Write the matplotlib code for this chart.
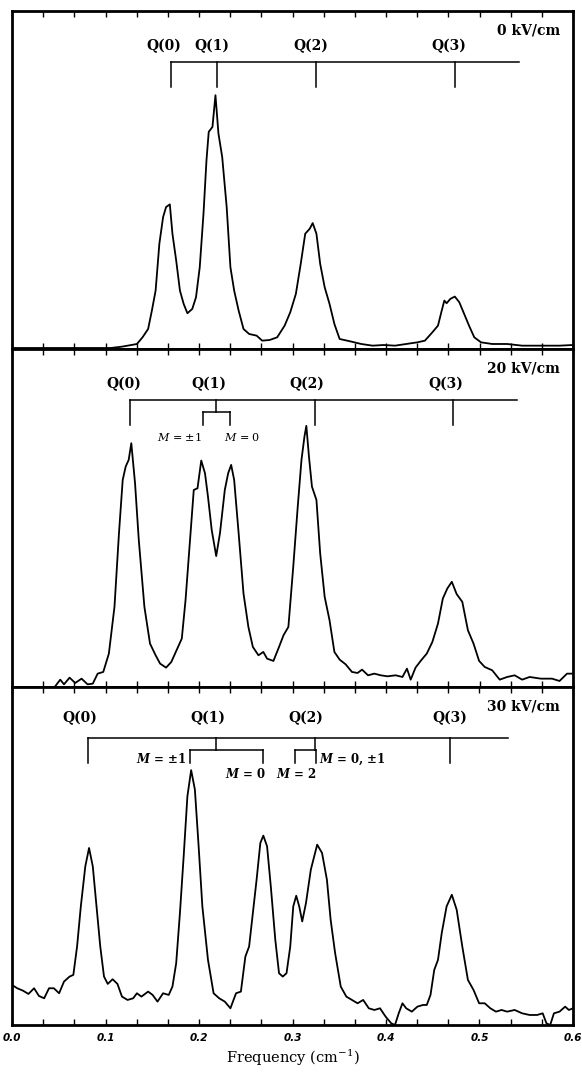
import numpy as np
import matplotlib
matplotlib.use("Agg")
import matplotlib.pyplot as plt
from matplotlib.ticker import MultipleLocator

plt.rcParams['mathtext.fontset'] = 'dejavuserif'
plt.rcParams['font.family'] = ['DejaVu Serif']

# spectra (frequency in cm^-1, intensity in arb. units)
freq_0kv = [0.0, 0.1056, 0.1176, 0.1336, 0.1396, 0.1456, 0.1496, 0.1536, 0.1576, 0.1616,
            0.1648, 0.1688, 0.1716, 0.1756, 0.1796, 0.1836, 0.1876, 0.1928, 0.1968, 0.2008,
            0.2048, 0.208, 0.2104, 0.2144, 0.2176, 0.2208, 0.2248, 0.2296, 0.2336, 0.2376,
            0.2424, 0.2476, 0.2536, 0.2616, 0.2676, 0.2756, 0.2836, 0.2916, 0.2976, 0.3036,
            0.3088, 0.3136, 0.3184, 0.3216, 0.3256, 0.3296, 0.3344, 0.3396, 0.3448, 0.3504,
            0.3616, 0.3736, 0.3856, 0.3976, 0.4096, 0.4216, 0.4336, 0.4416, 0.4496, 0.4556,
            0.4596, 0.4624, 0.4648, 0.4688, 0.4736, 0.4784, 0.4836, 0.4888, 0.4944, 0.5016,
            0.5136, 0.5296, 0.5456, 0.5656, 0.5856, 0.6]
int_0kv = [3, 3, 7, 15, 35, 60, 115, 175, 315, 395,
           425, 433, 345, 265, 175, 135, 107, 120, 155, 245,
           405, 565, 650, 665, 760, 645, 575, 425, 245, 175,
           115, 60, 45, 40, 25, 27, 35, 70, 110, 165,
           255, 345, 360, 377, 345, 255, 185, 135, 75, 30,
           23, 15, 10, 12, 10, 15, 20, 25, 50, 70,
           115, 145, 137, 150, 157, 140, 105, 70, 35, 20,
           15, 15, 10, 10, 10, 12]

freq_20kv = [0.0, 0.0456, 0.0516, 0.0556, 0.0616, 0.0676, 0.0744, 0.0808, 0.0864, 0.0916,
             0.0976, 0.1036, 0.1096, 0.1144, 0.1184, 0.1216, 0.1248, 0.1276, 0.1316, 0.1356,
             0.1416, 0.1476, 0.1536, 0.1584, 0.1648, 0.1704, 0.1768, 0.1816, 0.1856, 0.1904,
             0.1944, 0.1984, 0.2024, 0.2064, 0.2096, 0.2136, 0.2184, 0.2224, 0.2276, 0.2312,
             0.2344, 0.2376, 0.2424, 0.2476, 0.2528, 0.2576, 0.2636, 0.2688, 0.2728, 0.2796,
             0.2856, 0.2904, 0.2956, 0.3008, 0.3056, 0.3096, 0.3128, 0.3148, 0.3176, 0.3208,
             0.3256, 0.3296, 0.3344, 0.3396, 0.3448, 0.3504, 0.3568, 0.3636, 0.3696, 0.3744,
             0.3808, 0.3876, 0.3944, 0.4016, 0.4104, 0.4176, 0.4224, 0.4264, 0.4316, 0.4376,
             0.4436, 0.4496, 0.4556, 0.4608, 0.4656, 0.4704, 0.4756, 0.4816, 0.4876, 0.4936,
             0.4996, 0.5056, 0.5136, 0.5216, 0.5296, 0.5376, 0.5456, 0.5536, 0.5656, 0.5776,
             0.5856, 0.5936, 0.6]
int_20kv = [0, 0, 22, 8, 28, 12, 25, 8, 10, 40,
            45, 100, 240, 460, 620, 660, 680, 730, 610, 440,
            240, 130, 95, 70, 58, 75, 115, 145, 260, 440,
            590, 595, 678, 640, 570, 470, 392, 460, 590, 640,
            665, 620, 460, 280, 180, 120, 95, 105, 85, 78,
            120, 155, 180, 360, 540, 680, 750, 782, 690, 600,
            560, 400, 270, 200, 105, 82, 68, 45, 42, 52,
            35, 40, 35, 32, 35, 30, 55, 22, 58, 80,
            100, 135, 190, 265, 295, 315, 278, 255, 170, 130,
            78, 60, 50, 22, 30, 35, 22, 30, 25, 25,
            18, 40, 40]

freq_30kv = [0.0, 0.0056, 0.0116, 0.0176, 0.0236, 0.0288, 0.0344, 0.0396, 0.0448, 0.0504,
             0.0556, 0.0616, 0.0656, 0.0696, 0.0736, 0.0784, 0.0824, 0.0864, 0.0904, 0.0944,
             0.0984, 0.1024, 0.1076, 0.1128, 0.1176, 0.1236, 0.1296, 0.1336, 0.1384, 0.1456,
             0.1504, 0.1556, 0.1616, 0.1676, 0.1716, 0.1756, 0.1796, 0.1836, 0.1876, 0.1916,
             0.1956, 0.1996, 0.2036, 0.2096, 0.2156, 0.2216, 0.2276, 0.2336, 0.2396, 0.2448,
             0.2496, 0.2536, 0.2576, 0.2616, 0.2656, 0.2688, 0.2728, 0.2768, 0.2816, 0.2856,
             0.2896, 0.2936, 0.2976, 0.3008, 0.304, 0.3072, 0.3104, 0.3144, 0.3196, 0.3264,
             0.3316, 0.3368, 0.3408, 0.3456, 0.3516, 0.3576, 0.3636, 0.3696, 0.3756, 0.3816,
             0.3876, 0.3936, 0.3996, 0.4056, 0.4096, 0.4136, 0.4176, 0.4216, 0.4276, 0.4336,
             0.4396, 0.4436, 0.4476, 0.4516, 0.4556, 0.4596, 0.4648, 0.4704, 0.4756, 0.4816,
             0.4876, 0.4936, 0.4996, 0.5056, 0.5116, 0.5176, 0.5236, 0.5296, 0.5376, 0.5456,
             0.5536, 0.5616, 0.5676, 0.5716, 0.5756, 0.5796, 0.5856, 0.5916, 0.5956, 0.6]
int_30kv = [120, 110, 103, 93, 110, 87, 80, 110, 110, 95,
            130, 145, 150, 235, 355, 475, 530, 475, 355, 235,
            145, 123, 137, 123, 85, 75, 80, 95, 85, 100,
            90, 70, 95, 90, 115, 185, 335, 505, 685, 763,
            705, 535, 355, 195, 95, 80, 70, 50, 95, 100,
            205, 235, 335, 435, 545, 567, 535, 415, 255, 155,
            145, 155, 235, 355, 387, 355, 310, 365, 465, 540,
            515, 435, 315, 215, 115, 85, 75, 65, 75, 50,
            45, 50, 25, 5, 0, 35, 65, 50, 40, 55,
            60, 60, 90, 165, 195, 275, 355, 390, 345, 235,
            135, 105, 65, 65, 50, 40, 45, 40, 45, 35,
            30, 30, 35, 5, 0, 35, 40, 55, 45, 50]

# line positions of the Q branch members
q_names = ['Q(0)', 'Q(1)', 'Q(2)', 'Q(3)']
q_0kv = [0.170, 0.2196, 0.3256, 0.4736]
q_20kv = [0.1264, 0.2184, 0.3236, 0.4716]
q_30kv = [0.0816, 0.2184, 0.3244, 0.4688]
split_20kv = [0.2044, 0.2336]           # Q(1): M = ±1, M = 0
split_30kv_q1 = [0.1904, 0.2688]        # Q(1): M = ±1, M = 0
split_30kv_q2 = [0.3028, 0.3256]        # Q(2): M = 2, M = 0, ±1
bar_end = [0.542, 0.540, 0.530]
fields = ['0 kV/cm', '20 kV/cm', '30 kV/cm']
tick_labels = ['0.0', '0.1', '0.2', '0.3', '0.4', '0.5', '0.6']

fig = plt.figure(figsize=(5.82, 10.73), dpi=100)
left, width = 12 / 582, 561 / 582
h = 338 / 1073
b3 = 48 / 1073
axes = [fig.add_axes([left, b3 + 2 * h, width, h]),
        fig.add_axes([left, b3 + h, width, h]),
        fig.add_axes([left, b3, width, h])]

ymax = 1012
bar_y, stem_y, sub_y, q_text_y = 860, 785, 822, 908
lw_bar = 1.1
qfont = dict(fontsize=10, fontweight='bold', ha='center', va='center')

for ax, fx, iy, field in zip(axes, [freq_0kv, freq_20kv, freq_30kv],
                             [int_0kv, int_20kv, int_30kv], fields):
    ax.plot(fx, iy, color='black', lw=1.3)
    ax.set_xlim(0, 0.6)
    ax.set_ylim(0, ymax)
    ax.set_yticks([])
    ax.xaxis.set_major_locator(MultipleLocator(0.1))
    ax.xaxis.set_minor_locator(MultipleLocator(0.1 / 3))
    ax.tick_params(axis='x', which='both', direction='in', top=True, bottom=True,
                   length=4, width=1.0, labelbottom=False)
    for s in ax.spines.values():
        s.set_linewidth(2.0)
    ax.text(0.586, 955, field, ha='right', va='center', fontsize=10, fontweight='bold')


def q_bar(ax, pos, end, plain):
    ax.plot([pos[0], end], [bar_y, bar_y], color='black', lw=lw_bar)
    for p in plain:
        ax.plot([p, p], [bar_y, stem_y], color='black', lw=lw_bar)


def split_bar(ax, centre, lo, hi):
    ax.plot([centre, centre], [bar_y, sub_y], color='black', lw=lw_bar)
    ax.plot([lo, hi], [sub_y, sub_y], color='black', lw=lw_bar)
    ax.plot([lo, lo], [sub_y, stem_y], color='black', lw=lw_bar)
    ax.plot([hi, hi], [sub_y, stem_y], color='black', lw=lw_bar)


# 0 kV/cm
ax = axes[0]
q_bar(ax, q_0kv, bar_end[0], q_0kv)
for name, x, dx in zip(q_names, q_0kv, [-0.008, -0.006, -0.006, -0.006]):
    ax.text(x + dx, q_text_y, name, **qfont)

# 20 kV/cm
ax = axes[1]
q_bar(ax, q_20kv, bar_end[1], [q_20kv[0], q_20kv[2], q_20kv[3]])
split_bar(ax, q_20kv[1], split_20kv[0], split_20kv[1])
for name, x, dx in zip(q_names, q_20kv, [-0.007, -0.008, -0.008, -0.008]):
    ax.text(x + dx, q_text_y, name, **qfont)
ax.text(split_20kv[0] - 0.025, 748, r'$M$ = ±1', ha='center', va='center', fontsize=8)
ax.text(split_20kv[1] + 0.013, 748, r'$M$ = 0', ha='center', va='center', fontsize=8)

# 30 kV/cm
ax = axes[2]
q_bar(ax, q_30kv, bar_end[2], [q_30kv[0], q_30kv[3]])
split_bar(ax, q_30kv[1], split_30kv_q1[0], split_30kv_q1[1])
split_bar(ax, q_30kv[2], split_30kv_q2[0], split_30kv_q2[1])
for name, x, dx in zip(q_names, q_30kv, [-0.009, -0.009, -0.010, -0.001]):
    ax.text(x + dx, q_text_y + 12, name, **qfont)
mfont = dict(fontsize=8.5, fontweight='bold', va='center')
ax.text(split_30kv_q1[0] - 0.004, 795, r'$\boldsymbol{M}$ = ±1', ha='right', **mfont)
ax.text(split_30kv_q1[1] - 0.019, 752, r'$\boldsymbol{M}$ = 0', ha='center', **mfont)
ax.text(split_30kv_q2[0] + 0.001, 752, r'$\boldsymbol{M}$ = 2', ha='center', **mfont)
ax.text(split_30kv_q2[1] + 0.003, 795, r'$\boldsymbol{M}$ = 0, ±1', ha='left', **mfont)

ax.tick_params(axis='x', labelbottom=True, pad=6)
ax.set_xticks(np.arange(0, 0.61, 0.1))
ax.set_xticklabels(tick_labels, fontstyle='italic', fontweight='bold', fontsize=7.5,
                   family='DejaVu Sans')
ax.set_xlabel(r'Frequency (cm$^{-1}$)', fontsize=10.5, labelpad=3)

fig.savefig('out.png', dpi=100)
